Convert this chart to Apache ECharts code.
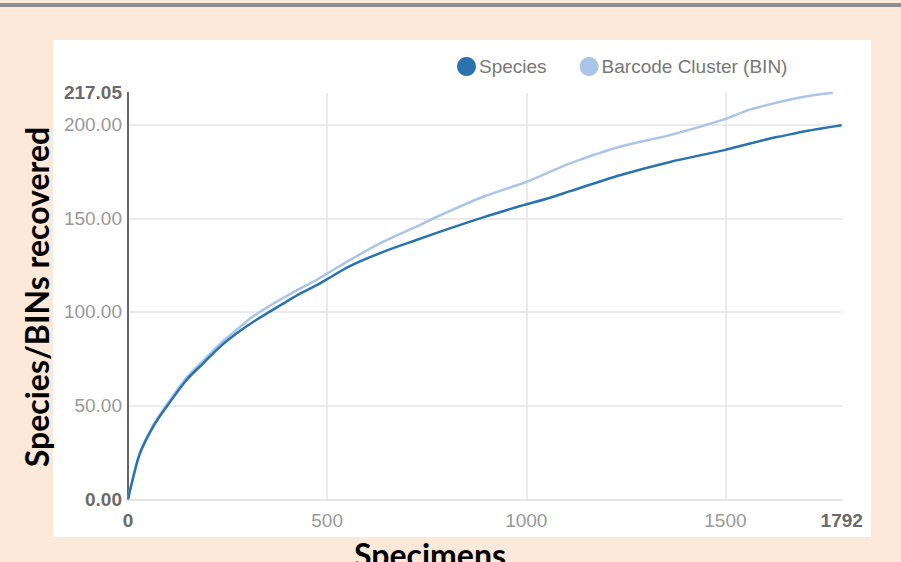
<!DOCTYPE html>
<html>
<head>
<meta charset="utf-8">
<script src="https://cdn.jsdelivr.net/npm/echarts@6/dist/echarts.min.js"></script>
<style>
html,body{margin:0;padding:0;background:#fde9da;}
#c{width:901px;height:562px;}
</style>
</head>
<body>
<div id="c"></div>
<script>
// Data
const speciesX = [0, 10, 30, 63, 97, 147, 189, 231, 273, 315, 398, 432, 474, 500, 557, 641, 724, 808, 892, 984, 1001, 1060, 1110, 1235, 1361, 1497, 1612, 1645, 1700, 1792];
const speciesY = [0, 9, 24.5, 38.7, 49.4, 63.7, 72.6, 81.4, 88.6, 94.8, 105.5, 109.8, 114.3, 117.5, 124.5, 132.1, 138.4, 144.6, 150.5, 156.5, 157.5, 161, 164.5, 173, 180.1, 186.4, 192.6, 194, 196.5, 199.7];
const binX = [0, 10, 30, 63, 97, 147, 189, 231, 273, 315, 398, 432, 474, 500, 557, 641, 724, 783, 892, 1001, 1110, 1235, 1361, 1497, 1561, 1687, 1770];
const binY = [0, 9.5, 25, 39.5, 50.5, 65, 74, 83, 90.5, 97.8, 108.5, 112.5, 117.2, 120.5, 127.7, 137.5, 145.5, 151.5, 161.5, 169.5, 179.3, 188.2, 194.4, 202.8, 208, 214.5, 217.05];
const seriesNames = ['Species', 'Barcode Cluster (BIN)'];
const xMax = 1792;
const yMax = 217.05;
const yTitle = 'Species/BINs recovered';
const xTitle = 'Specimens';

const pair = (xs, ys) => xs.map((x, i) => [x, ys[i]]);

const chart = echarts.init(document.getElementById('c'), null, {renderer: 'svg'});
const labelFont = "'Liberation Sans', Arial, sans-serif";
const titleFont = "bold 32px Lato, 'Open Sans', sans-serif";
chart.setOption({
  backgroundColor: '#fde9da',
  animation: false,
  graphic: [
    {type: 'rect', shape: {x: 0, y: 3, width: 901, height: 4}, style: {fill: '#8e8e8e'}, z: -10},
    {type: 'rect', shape: {x: 53, y: 40, width: 818, height: 497}, style: {fill: '#ffffff'}, z: -10},
    {type: 'text', rotation: Math.PI / 2, x: 36, y: 297,
     style: {text: yTitle, font: titleFont, fill: '#000', align: 'center', verticalAlign: 'middle'}},
    {type: 'text', x: 430, y: 554,
     style: {text: xTitle, font: titleFont, fill: '#000', align: 'center', verticalAlign: 'middle'}}
  ],
  legend: {
    data: seriesNames,
    left: 452, top: 52,
    icon: 'circle', itemWidth: 19, itemHeight: 19, itemGap: 33,
    textStyle: {fontFamily: labelFont, fontSize: 19, color: '#777', padding: [0, 0, 0, -2]}
  },
  grid: {left: 128, right: 59.3, top: 92.7, bottom: 62.7},
  xAxis: {
    type: 'value', min: 0, max: xMax, interval: 500,
    axisLine: {show: true, lineStyle: {color: '#dcdcdc', width: 1.5}},
    axisTick: {show: false},
    splitLine: {show: true, showMaxLine: false, showMinLine: false, lineStyle: {color: '#e4e4e4', width: 1.5}},
    axisLabel: {
      margin: 12, fontFamily: labelFont, fontSize: 19, color: '#999',
      formatter: v => (v === 0 || v === xMax) ? '{b|' + v + '}' : String(v),
      rich: {b: {fontFamily: labelFont, fontSize: 19, fontWeight: 'bold', color: '#6a6a6a'}}
    }
  },
  yAxis: {
    type: 'value', min: 0, max: yMax, interval: 50,
    axisLine: {show: true, lineStyle: {color: '#666', width: 2}},
    axisTick: {show: false},
    splitLine: {show: true, showMaxLine: false, showMinLine: false, lineStyle: {color: '#e4e4e4', width: 1.5}},
    axisLabel: {
      margin: 6, fontFamily: labelFont, fontSize: 19, color: '#999',
      formatter: v => (v === 0 || Math.abs(v - yMax) < 1e-6) ? '{b|' + v.toFixed(2) + '}' : v.toFixed(2),
      rich: {b: {fontFamily: labelFont, fontSize: 19, fontWeight: 'bold', color: '#6a6a6a'}}
    }
  },
  series: [
    {name: seriesNames[0], type: 'line', data: pair(speciesX, speciesY), showSymbol: false, smooth: 0.3,
     itemStyle: {color: '#2a72b0'}, lineStyle: {color: '#2a72b0', width: 2.5}, z: 3},
    {name: seriesNames[1], type: 'line', data: pair(binX, binY), showSymbol: false, smooth: 0.3,
     itemStyle: {color: '#abc5e8'}, lineStyle: {color: '#abc5e8', width: 2.5}, z: 2}
  ]
});
</script>
</body>
</html>
